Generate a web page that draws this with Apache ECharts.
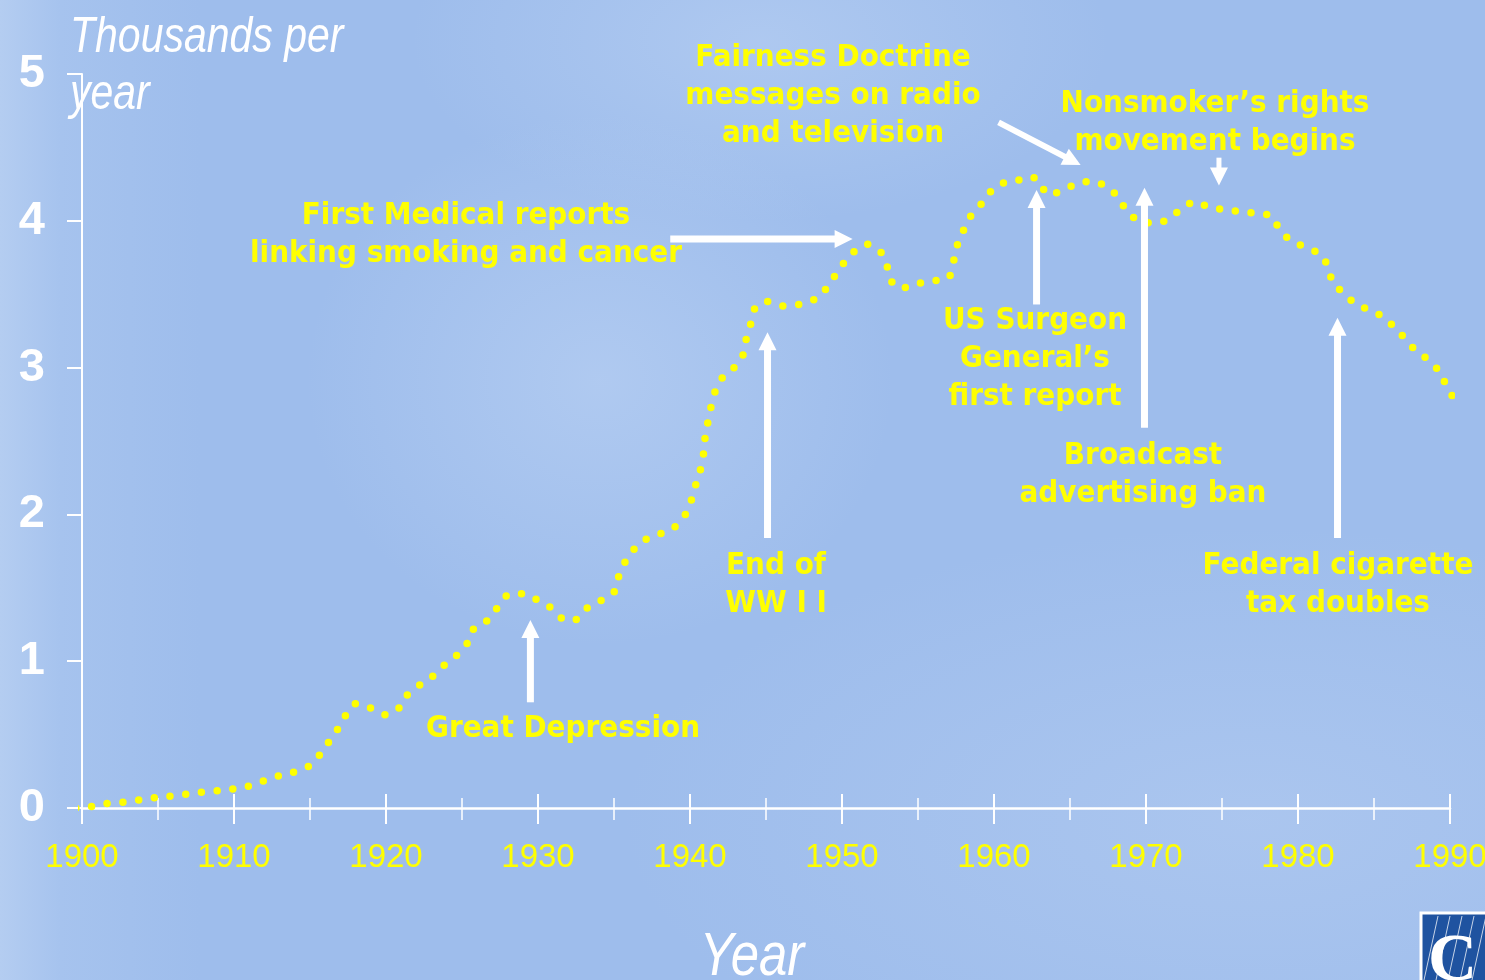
<!DOCTYPE html>
<html>
<head>
<meta charset="utf-8">
<script src="https://cdn.jsdelivr.net/npm/echarts@6/dist/echarts.min.js"></script>
<style>
  html, body { margin: 0; padding: 0; }
  body {
    width: 1485px; height: 980px; overflow: hidden;
    background-color: #9ebdec;
    background-image:
      radial-gradient(ellipse 420px 380px at 600px 380px, rgba(190,212,244,0.55), rgba(190,212,244,0) 70%),
      radial-gradient(ellipse 500px 260px at 760px 40px, rgba(190,212,244,0.5), rgba(190,212,244,0) 70%),
      radial-gradient(ellipse 900px 420px at 1250px 820px, rgba(186,208,242,0.45), rgba(186,208,242,0) 70%),
      linear-gradient(90deg, #b4cdf1 0px, #a6c3ee 60px, #9ebdec 200px, #9ebdec 100%);
  }
  #main { width: 1485px; height: 980px; }
</style>
</head>
<body>
<div id="main"></div>
<script>
// points (year, thousands per year)
const years = [1899.6, 1900.6, 1901.6, 1902.7, 1903.8, 1904.8, 1905.8, 1906.9, 1907.9, 1909.0,
  1910.0, 1911.0, 1912.0, 1913.0, 1914.1, 1915.0, 1915.7, 1916.3, 1916.9, 1917.4,
  1918.0, 1919.0, 1920.0, 1920.9, 1921.4, 1922.3, 1923.1, 1923.9, 1924.7, 1925.4,
  1925.8, 1926.7, 1927.3, 1928.0, 1929.0, 1929.9, 1930.9, 1931.6, 1932.4, 1933.2,
  1934.1, 1935.0, 1935.3, 1935.7, 1936.3, 1937.1, 1938.1, 1939.0, 1939.7, 1940.1,
  1940.4, 1940.7, 1940.9, 1941.0, 1941.2, 1941.4, 1941.7, 1942.2, 1943.0, 1943.5,
  1943.7, 1944.0, 1944.3, 1945.1, 1946.1, 1947.2, 1948.2, 1948.9, 1949.5, 1950.1,
  1950.8, 1951.7, 1952.6, 1953.0, 1953.3, 1953.9, 1954.9, 1955.9, 1957.0, 1957.3,
  1957.5, 1957.9, 1958.3, 1959.0, 1959.6, 1960.4, 1961.4, 1962.4, 1963.0, 1963.5,
  1964.4, 1965.4, 1966.4, 1967.3, 1968.2, 1968.7, 1969.5, 1970.5, 1971.5, 1972.3,
  1973.2, 1974.2, 1975.3, 1976.3, 1977.4, 1978.3, 1978.8, 1979.6, 1980.5, 1981.5,
  1982.0, 1982.3, 1983.1, 1983.8, 1984.8, 1985.6, 1986.4, 1987.1, 1987.8, 1988.7,
  1989.3, 1989.8, 1990.3]
const values = [0, 0.01, 0.03, 0.04, 0.055, 0.07, 0.08, 0.095, 0.107, 0.118,
  0.13, 0.15, 0.186, 0.22, 0.25, 0.29, 0.37, 0.46, 0.55, 0.64,
  0.71, 0.68, 0.635, 0.685, 0.77, 0.845, 0.90, 0.98, 1.045, 1.13,
  1.226, 1.28, 1.36, 1.45, 1.46, 1.42, 1.36, 1.29, 1.28, 1.36,
  1.41, 1.47, 1.575, 1.67, 1.76, 1.83, 1.87, 1.915, 2.0, 2.10,
  2.21, 2.31, 2.42, 2.53, 2.64, 2.74, 2.85, 2.94, 3.01, 3.09,
  3.195, 3.30, 3.41, 3.45, 3.42, 3.43, 3.465, 3.53, 3.62, 3.71,
  3.79, 3.84, 3.78, 3.68, 3.58, 3.54, 3.57, 3.59, 3.61, 3.70,
  3.81, 3.91, 4.01, 4.09, 4.18, 4.25, 4.27, 4.30, 4.27, 4.18,
  4.20, 4.25, 4.27, 4.24, 4.16, 4.07, 4.0, 3.985, 4.01, 4.08,
  4.13, 4.09, 4.075, 4.06, 4.05, 4.03, 3.935, 3.86, 3.82, 3.77,
  3.68, 3.575, 3.50, 3.43, 3.39, 3.345, 3.27, 3.19, 3.11, 3.045,
  2.97, 2.87, 2.78]

const yTicks = [0, 1, 2, 3, 4, 5]
const xTicks = [1900, 1910, 1920, 1930, 1940, 1950, 1960, 1970, 1980, 1990]

// annotation arrows: [fromYear, fromValue, toYear, toValue, shaftWidth]
const arrows = [
  [1929.5, 0.72, 1929.5, 1.28, 7],
  [1945.1, 1.84, 1945.1, 3.24, 7],
  [1938.7, 3.876, 1950.7, 3.876, 7],
  [1960.3, 4.67, 1965.7, 4.38, 6],
  [1974.8, 4.43, 1974.8, 4.24, 5],
  [1962.8, 3.43, 1962.8, 4.21, 7],
  [1969.9, 2.59, 1969.9, 4.225, 7],
  [1982.6, 1.84, 1982.6, 3.34, 7]
]
const notes = [
  ['Great Depression', 563, 729],
  ['End of\nWW I I', 776, 585],
  ['First Medical reports\nlinking smoking and cancer', 466, 235],
  ['Fairness Doctrine\nmessages on radio\nand television', 833, 96],
  ['Nonsmoker’s rights\nmovement begins', 1215, 123],
  ['US Surgeon\nGeneral’s\nfirst report', 1035, 359],
  ['Broadcast\nadvertising ban', 1143, 475],
  ['Federal cigarette\ntax doubles', 1338, 585]
]

const myChart = echarts.init(document.getElementById('main'))

const xBase = {
  type: 'value',
  min: xTicks[0],
  max: xTicks[xTicks.length - 1],
  interval: 10,
  position: 'bottom',
  splitLine: { show: false },
  minorSplitLine: { show: false }
}

myChart.setOption({
  animation: false,
  grid: { left: 82, right: 35, top: 74, bottom: 172, outerBoundsMode: 'none', containLabel: false },
  xAxis: [
    Object.assign({}, xBase, {
      axisLine: { show: true, onZero: false, lineStyle: { color: '#fff', width: 2.5 } },
      axisTick: { show: true, length: 16, lineStyle: { color: '#fff', width: 2 } },
      minorTick: { show: true, splitNumber: 2, length: 12, lineStyle: { color: '#fff', width: 1.5 } },
      axisLabel: {
        color: '#ffff00',
        fontFamily: '"Liberation Sans", Arial, sans-serif',
        fontSize: 33,
        margin: 33,
        hideOverlap: false,
        formatter: v => xTicks.indexOf(v) >= 0 ? String(v) : ''
      }
    }),
    Object.assign({}, xBase, {
      axisLine: { show: false, onZero: false },
      axisTick: { show: true, inside: true, length: 14, lineStyle: { color: '#fff', width: 2 } },
      minorTick: { show: true, splitNumber: 2, length: 10, lineStyle: { color: '#fff', width: 1.5 } },
      axisLabel: { show: false }
    })
  ],
  yAxis: {
    type: 'value',
    min: yTicks[0],
    max: yTicks[yTicks.length - 1],
    interval: 1,
    axisLine: { show: true, lineStyle: { color: '#fff', width: 2 } },
    axisTick: { show: true, length: 15, lineStyle: { color: '#fff', width: 2 } },
    axisLabel: {
      color: '#fff',
      fontFamily: '"Liberation Sans", Arial, sans-serif',
      fontWeight: 'bold',
      fontSize: 47,
      margin: 37
    },
    splitLine: { show: false }
  },
  series: [{
    type: 'line',
    xAxisIndex: 0,
    data: years.map((y, i) => [y, values[i]]),
    showSymbol: false,
    smooth: 0.25,
    clip: false,
    lineStyle: { color: '#ffff00', width: 7.5, type: [0, 15.8], cap: 'round' }
  }]
})

// arrows + text are drawn as graphics on top
function buildGraphics () {
  const els = []
  arrows.forEach(a => {
    const p0 = myChart.convertToPixel({ gridIndex: 0 }, [a[0], a[1]])
    const p1 = myChart.convertToPixel({ gridIndex: 0 }, [a[2], a[3]])
    const dx = p1[0] - p0[0]
    const dy = p1[1] - p0[1]
    const len = Math.sqrt(dx * dx + dy * dy)
    const ux = dx / len
    const uy = dy / len
    const headLen = 18
    const headW = 9
    const bx = p1[0] - ux * headLen
    const by = p1[1] - uy * headLen
    els.push({
      type: 'line',
      shape: { x1: p0[0], y1: p0[1], x2: bx + ux, y2: by + uy },
      style: { stroke: '#fff', lineWidth: a[4] },
      z: 50
    })
    els.push({
      type: 'polygon',
      shape: { points: [[p1[0], p1[1]], [bx - uy * headW, by + ux * headW], [bx + uy * headW, by - ux * headW]] },
      style: { fill: '#fff' },
      z: 50
    })
  })
  notes.forEach(n => {
    els.push({
      type: 'text',
      x: n[1],
      y: n[2],
      scaleX: 0.93,
      style: {
        text: n[0],
        fill: '#ffff00',
        font: 'bold 30px "DejaVu Sans", Verdana, sans-serif',
        lineHeight: 38,
        align: 'center',
        verticalAlign: 'middle'
      },
      z: 50
    })
  })
  // axis titles (narrow italic look)
  els.push({
    type: 'text', x: 70, y: 10, scaleX: 0.82,
    style: {
      text: 'Thousands per\nyear', fill: '#fff',
      font: 'italic 50px "Liberation Sans", Arial, sans-serif',
      lineHeight: 57, align: 'left', verticalAlign: 'top'
    },
    z: 50
  })
  els.push({
    type: 'text', x: 752, y: 927, scaleX: 0.82,
    style: {
      text: 'Year', fill: '#fff',
      font: 'italic 62px "Liberation Sans", Arial, sans-serif',
      lineHeight: 62, align: 'center', verticalAlign: 'top'
    },
    z: 50
  })
  // corner logo (partly cut off like the slide)
  els.push({
    type: 'rect', shape: { x: 1421, y: 913, width: 80, height: 80 },
    style: { fill: '#1f53a0', stroke: '#fff', lineWidth: 3 }, z: 40
  })
  ;[1438, 1450, 1462, 1474, 1486].forEach(x => {
    els.push({
      type: 'line', shape: { x1: x, y1: 916, x2: x - 14, y2: 980 },
      style: { stroke: 'rgba(255,255,255,0.75)', lineWidth: 1 }, z: 41
    })
  })
  els.push({
    type: 'text', x: 1428, y: 928,
    style: { text: 'C', fill: '#fff', font: 'bold 68px "Liberation Serif", serif', align: 'left', verticalAlign: 'top' },
    z: 42
  })
  myChart.setOption({ graphic: els })
}
buildGraphics()
</script>
</body>
</html>
